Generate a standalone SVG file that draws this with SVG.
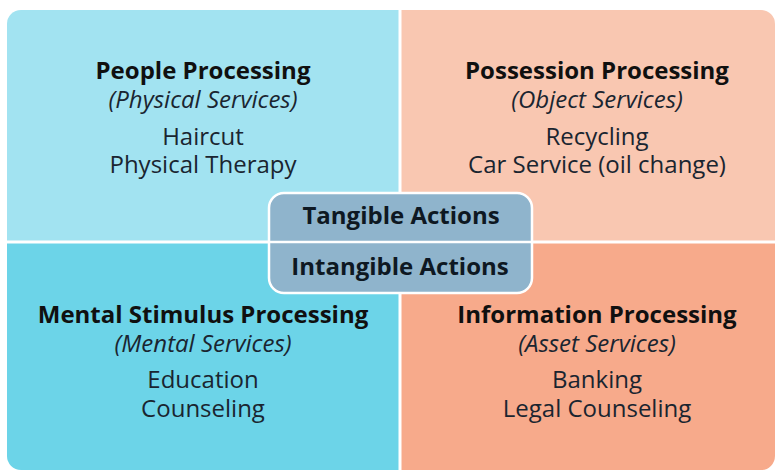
<svg xmlns="http://www.w3.org/2000/svg" width="780" height="472" viewBox="0 0 780 472">
<defs>
<clipPath id="outer"><rect x="7" y="10" width="768" height="460" rx="14" ry="14"/></clipPath>
<style>
text{font-family:"Open Sans","Noto Sans","DejaVu Sans",sans-serif;text-anchor:middle;font-size:24px}
.t{font-weight:700;fill:#101010}
.s{font-style:italic;fill:#1a2530}
.i{fill:#1a2530}
.c{font-weight:700;fill:#0e1822}
</style>
</defs>
<rect width="780" height="472" fill="#ffffff"/>
<g clip-path="url(#outer)">
<g id="people">
<rect x="7" y="10" width="393" height="232" fill="#a2e3f1"/>
<text class="t" x="203" y="79">People Processing</text>
<text class="s" x="203" y="108">(Physical Services)</text>
<text class="i" x="203" y="145">Haircut</text>
<text class="i" x="203" y="173">Physical Therapy</text>
</g>
<g id="possession">
<rect x="400" y="10" width="375" height="232" fill="#f9c7b1"/>
<text class="t" x="597" y="79">Possession Processing</text>
<text class="s" x="597" y="108">(Object Services)</text>
<text class="i" x="597" y="145">Recycling</text>
<text class="i" x="597" y="173">Car Service (oil change)</text>
</g>
<g id="mental">
<rect x="7" y="242" width="393" height="228" fill="#6cd4e8"/>
<text class="t" x="203" y="323">Mental Stimulus Processing</text>
<text class="s" x="203" y="352">(Mental Services)</text>
<text class="i" x="203" y="388">Education</text>
<text class="i" x="203" y="417">Counseling</text>
</g>
<g id="information">
<rect x="400" y="242" width="375" height="228" fill="#f7aa8b"/>
<text class="t" x="597" y="323">Information Processing</text>
<text class="s" x="597" y="352">(Asset Services)</text>
<text class="i" x="597" y="388">Banking</text>
<text class="i" x="597" y="417">Legal Counseling</text>
</g>
</g>
<g id="connectors">
<line x1="400" y1="10" x2="400" y2="470" stroke="#ffffff" stroke-width="3"/>
<line x1="7" y1="242" x2="775" y2="242" stroke="#ffffff" stroke-width="3"/>
</g>
<g id="actions">
<rect x="269" y="193" width="263" height="100" rx="15" ry="15" fill="#8fb4cc" stroke="#ffffff" stroke-width="2.5"/>
<line x1="269" y1="242" x2="532" y2="242" stroke="#ffffff" stroke-width="2.5"/>
<text class="c" x="401" y="224">Tangible Actions</text>
<text class="c" x="400" y="275">Intangible Actions</text>
</g>
</svg>
